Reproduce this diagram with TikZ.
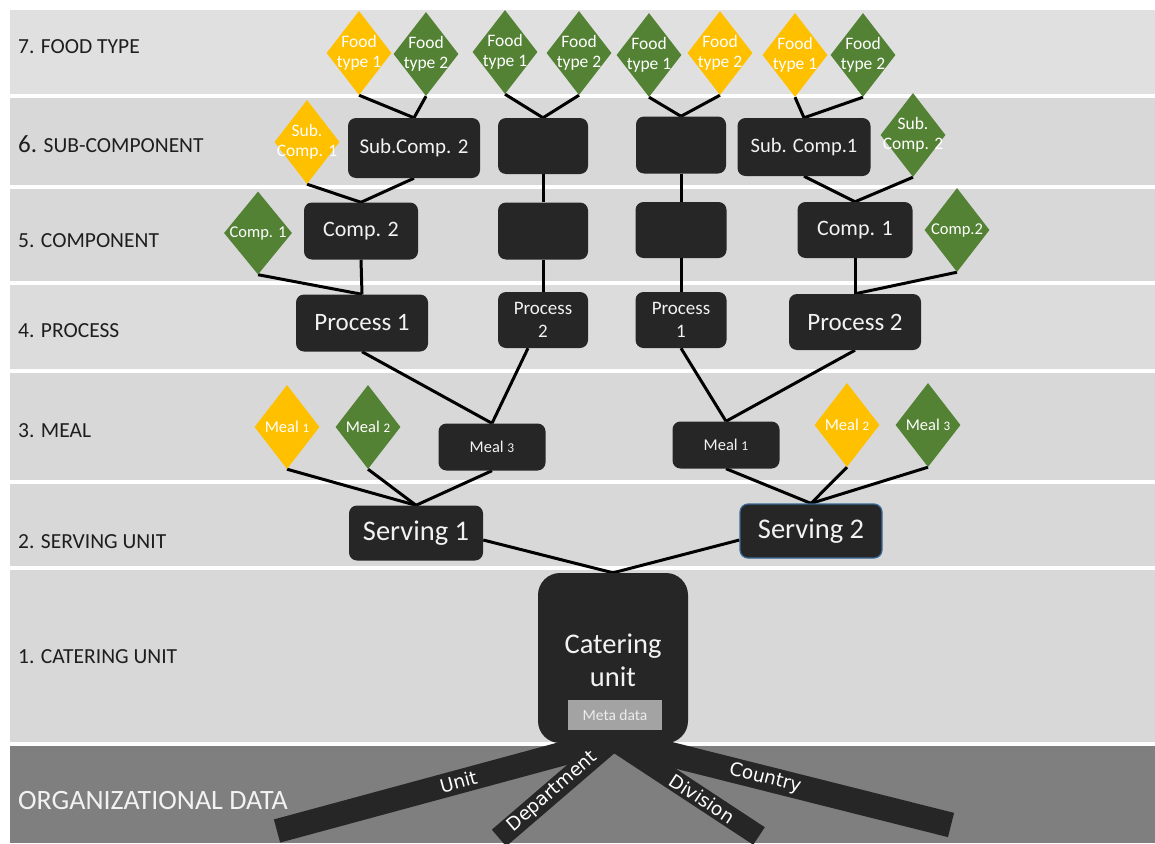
\documentclass[tikz,border=0pt]{standalone}
\usepackage{fontspec}
\setmainfont{Carlito}
\newfontfamily\barfont{DejaVu Sans}
\usetikzlibrary{shapes.geometric,calc}

\definecolor{boxc}{HTML}{262626}
\definecolor{txtc}{HTML}{F2F2F2}
\definecolor{labc}{HTML}{1E1E1E}
\definecolor{yel}{HTML}{FFC000}
\definecolor{grn}{HTML}{548235}
\definecolor{bandA}{HTML}{E0E0E0}
\definecolor{bandB}{HTML}{D8D8D8}
\definecolor{bandC}{HTML}{DCDCDC}
\definecolor{orgc}{HTML}{7F7F7F}
\definecolor{metac}{HTML}{A3A3A3}
\definecolor{metat}{HTML}{ECECEC}
\definecolor{servb}{HTML}{3A6A98}

\pgfdeclarelayer{back}
\pgfdeclarelayer{links}
\pgfsetlayers{back,links,main}

\begin{document}
\begin{tikzpicture}[x=1pt,y=-1pt,
  box/.style={rectangle, rounded corners=8pt, fill=boxc, text=txtc, inner sep=0pt, align=center},
  dia/.style={diamond, inner sep=0pt, minimum width=65pt, minimum height=84pt},
  ydia/.style={dia, fill=yel},
  gdia/.style={dia, fill=grn},
  dtext/.style={text=white, align=center, inner sep=0pt, font=\fontsize{17.5}{20}\selectfont},
  mtext/.style={text=white, align=center, inner sep=0pt, font=\fontsize{16.5}{18}\selectfont},
  lab/.style={anchor=base west, text=labc, inner sep=0pt, font=\fontsize{21.5}{24}\selectfont},
  lnk/.style={draw=black, line width=3pt},
  bar/.style={draw=boxc, line width=#1, line cap=butt},
  bartext/.style={text=white, inner sep=0pt, font=\barfont\fontsize{18.5}{20}\selectfont},
]
\useasboundingbox (0,0) rectangle (1155,843);

\begin{pgfonlayer}{back}
\fill[white] (0,0) rectangle (1155,843);
% level bands
\fill[bandA] (10,10)  rectangle (1155,94);
\fill[bandB] (10,98)  rectangle (1155,185);
\fill[bandB] (10,189) rectangle (1155,281);
\fill[bandC] (10,285) rectangle (1155,369);
\fill[bandB] (10,373) rectangle (1155,480);
\fill[bandB] (10,484) rectangle (1155,566);
\fill[bandB] (10,570) rectangle (1155,742);
\fill[orgc]  (10,746) rectangle (1155,843);
\end{pgfonlayer}

% level labels
\node[lab] (l7) at (18,53)  {7. FOOD TYPE};
\node[lab] (l6) at (18,152) {{\fontsize{25}{28}\selectfont 6.} SUB-COMPONENT};
\node[lab] (l5) at (18,247) {5. COMPONENT};
\node[lab] (l4) at (18,337) {4. PROCESS};
\node[lab] (l3) at (18,437) {3. MEAL};
\node[lab] (l2) at (18,548) {2. SERVING UNIT};
\node[lab] (l1) at (18,663) {1. CATERING UNIT};
\node[lab, text=txtc, font=\fontsize{28}{32}\selectfont] (lorg) at (18,809) {ORGANIZATIONAL DATA};

% organizational data branches
\coordinate (hub) at (613,740);
\coordinate (unitEnd) at (277,831);
\coordinate (depEnd) at (499,838);
\coordinate (divEnd) at (759,836);
\coordinate (ctyEnd) at (951,825);
\draw[bar=24pt] (unitEnd) -- node[bartext, pos=0.54, sloped] (tunit) {Unit} (hub);
\draw[bar=22pt] (depEnd) -- node[bartext, pos=0.47, sloped] (tdep) {Department} (hub);
\draw[bar=21pt] (hub) -- node[bartext, pos=0.61, sloped] (tdiv) {Division} (divEnd);
\draw[bar=25pt] (hub) -- node[bartext, pos=0.45, sloped] (tcty) {Country} (ctyEnd);

% food types
\node[ydia, label={[dtext]center:{Food\\type 1}}] (ft1) at (359,53) {};
\node[gdia, label={[dtext]center:{Food\\type 2}}] (ft2) at (426,54) {};
\node[gdia, label={[dtext]center:{Food\\type 1}}] (ft3) at (505,52) {};
\node[gdia, label={[dtext]center:{Food\\type 2}}] (ft4) at (579,53) {};
\node[gdia, label={[dtext]center:{Food\\type 1}}] (ft5) at (649,55) {};
\node[ydia, label={[dtext]center:{Food\\type 2}}] (ft6) at (720,53) {};
\node[ydia, label={[dtext]center:{Food\\type 1}}] (ft7) at (795,55) {};
\node[gdia, label={[dtext]center:{Food\\type 2}}] (ft8) at (863,55) {};

% sub-components
\node[ydia, label={[dtext]center:{Sub.\\Comp. 1}}] (dsc1) at (307,142) {};
\node[box, minimum width=132pt, minimum height=60pt, font=\fontsize{21}{24}\selectfont] (sc2) at (414,148) {Sub.Comp. 2};
\node[box, minimum width=90pt, minimum height=56pt] (b1) at (543,146) {};
\node[box, minimum width=90pt, minimum height=57pt] (b2) at (681,145) {};
\node[box, minimum width=133pt, minimum height=58pt, font=\fontsize{20.5}{24}\selectfont] (sc1) at (804,147) {Sub. Comp.1};
\node[gdia, label={[dtext]center:{Sub.\\Comp. 2}}] (dsc2) at (913,135) {};

% components
\node[gdia, minimum width=68pt, minimum height=83pt, label={[dtext, font=\fontsize{16.5}{18}\selectfont]center:{Comp. 1}}] (dc1) at (258,233) {};
\node[box, minimum width=114pt, minimum height=57pt, font=\fontsize{22}{24}\selectfont] (c2) at (361,231) {Comp. 2};
\node[box, minimum width=90pt, minimum height=57pt] (b3) at (543,231) {};
\node[box, minimum width=91pt, minimum height=56pt] (b4) at (681,230) {};
\node[box, minimum width=115pt, minimum height=56pt, font=\fontsize{22}{24}\selectfont] (c1) at (855,230) {Comp. 1};
\node[gdia, label={[dtext, font=\fontsize{16.5}{18}\selectfont]center:{Comp.2}}] (dc2) at (957,230) {};

% processes
\node[box, minimum width=132pt, minimum height=57pt, font=\fontsize{25}{28}\selectfont] (p1) at (362,323) {Process 1};
\node[box, minimum width=90pt, minimum height=56pt, font=\fontsize{19}{23}\selectfont] (p2) at (543,320) {Process\\2};
\node[box, minimum width=91pt, minimum height=56pt, font=\fontsize{19}{23}\selectfont] (p1b) at (681,320) {Process\\1};
\node[box, minimum width=132pt, minimum height=56pt, font=\fontsize{25}{28}\selectfont] (p2b) at (855,322) {Process 2};

% meals
\node[ydia, label={[mtext]center:{Meal {\fontsize{13}{14}\selectfont 1}}}] (dm1) at (287,427) {};
\node[gdia, label={[mtext]center:{Meal {\fontsize{13}{14}\selectfont 2}}}] (dm2) at (368,427) {};
\node[box, minimum width=107pt, minimum height=47pt, font=\fontsize{16.5}{18}\selectfont] (m3) at (492,447) {Meal {\fontsize{13.5}{14}\selectfont 3}};
\node[box, minimum width=107pt, minimum height=47pt, font=\fontsize{16.5}{18}\selectfont] (m1) at (726,445) {Meal {\fontsize{13.5}{14}\selectfont 1}};
\node[ydia, label={[mtext]center:{Meal {\fontsize{13}{14}\selectfont 2}}}] (dm2r) at (847,425) {};
\node[gdia, label={[mtext]center:{Meal {\fontsize{13}{14}\selectfont 3}}}] (dm3r) at (928,425) {};

% serving units
\node[box, minimum width=134pt, minimum height=55pt, font=\fontsize{28.5}{32}\selectfont] (s1) at (416,533) {Serving 1};
\node[box, draw=servb, line width=1.2pt, minimum width=142pt, minimum height=54pt, font=\fontsize{28.5}{32}\selectfont] (s2) at (811,531) {Serving 2};

% catering unit
\node[box, rounded corners=22pt, minimum width=150pt, minimum height=170pt] (cat) at (613,658) {};
\node[text=txtc, align=center, inner sep=0pt, font=\fontsize{28.5}{33}\selectfont] (cattxt) at (613,660) {Catering\\unit};
\node[fill=metac, text=metat, inner sep=0pt, minimum width=94pt, minimum height=30pt, font=\fontsize{15.5}{18}\selectfont] (meta) at (615,715) {Meta data};

% connectors
\begin{pgfonlayer}{links}
% food types to sub-components
\draw[lnk] (ft1.south) -- (sc2.north);
\draw[lnk] (ft2.south) -- (sc2.north);
\draw[lnk] (ft3.south) -- (b1.north);
\draw[lnk] (ft4.south) -- (b1.north);
\draw[lnk] (ft5.south) -- (b2.north);
\draw[lnk] (ft6.south) -- (b2.north);
\draw[lnk] (ft7.south) -- (sc1.north);
\draw[lnk] (ft8.south) -- (sc1.north);
% sub-components to components
\draw[lnk] (dsc1.south) -- (c2.north);
\draw[lnk] (sc2.south) -- (c2.north);
\draw[lnk] (b1.south) -- (b3.north);
\draw[lnk] (b2.south) -- (b4.north);
\draw[lnk] (sc1.south) -- (c1.north);
\draw[lnk] (dsc2.south) -- (c1.north);
% components to processes
\draw[lnk] (dc1.south) -- (p1.north);
\draw[lnk] (c2.south) -- (p1.north);
\draw[lnk] (b3.south) -- (p2.north);
\draw[lnk] (b4.south) -- (p1b.north);
\draw[lnk] (c1.south) -- (p2b.north);
\draw[lnk] (dc2.south) -- (p2b.north);
% processes to meals
\draw[lnk] (p1.south) -- (m3.north);
\draw[lnk] ($(p2.south)+(-15,0)$) -- (m3.north);
\draw[lnk] (p1b.south) -- (m1.north);
\draw[lnk] (p2b.south) -- (m1.north);
% meals to serving units
\draw[lnk] (dm1.south) -- (s1.north);
\draw[lnk] (dm2.south) -- (s1.north);
\draw[lnk] (m3.south) -- (s1.north);
\draw[lnk] (m1.south) -- (s2.north);
\draw[lnk] (dm2r.south) -- (s2.north);
\draw[lnk] (dm3r.south) -- (s2.north);
% serving units to catering unit
\draw[lnk] ($(s1.east)+(0,7)$) -- (cat.north);
\draw[lnk] ($(s2.west)+(0,9)$) -- (cat.north);
\end{pgfonlayer}
\end{tikzpicture}
\end{document}
